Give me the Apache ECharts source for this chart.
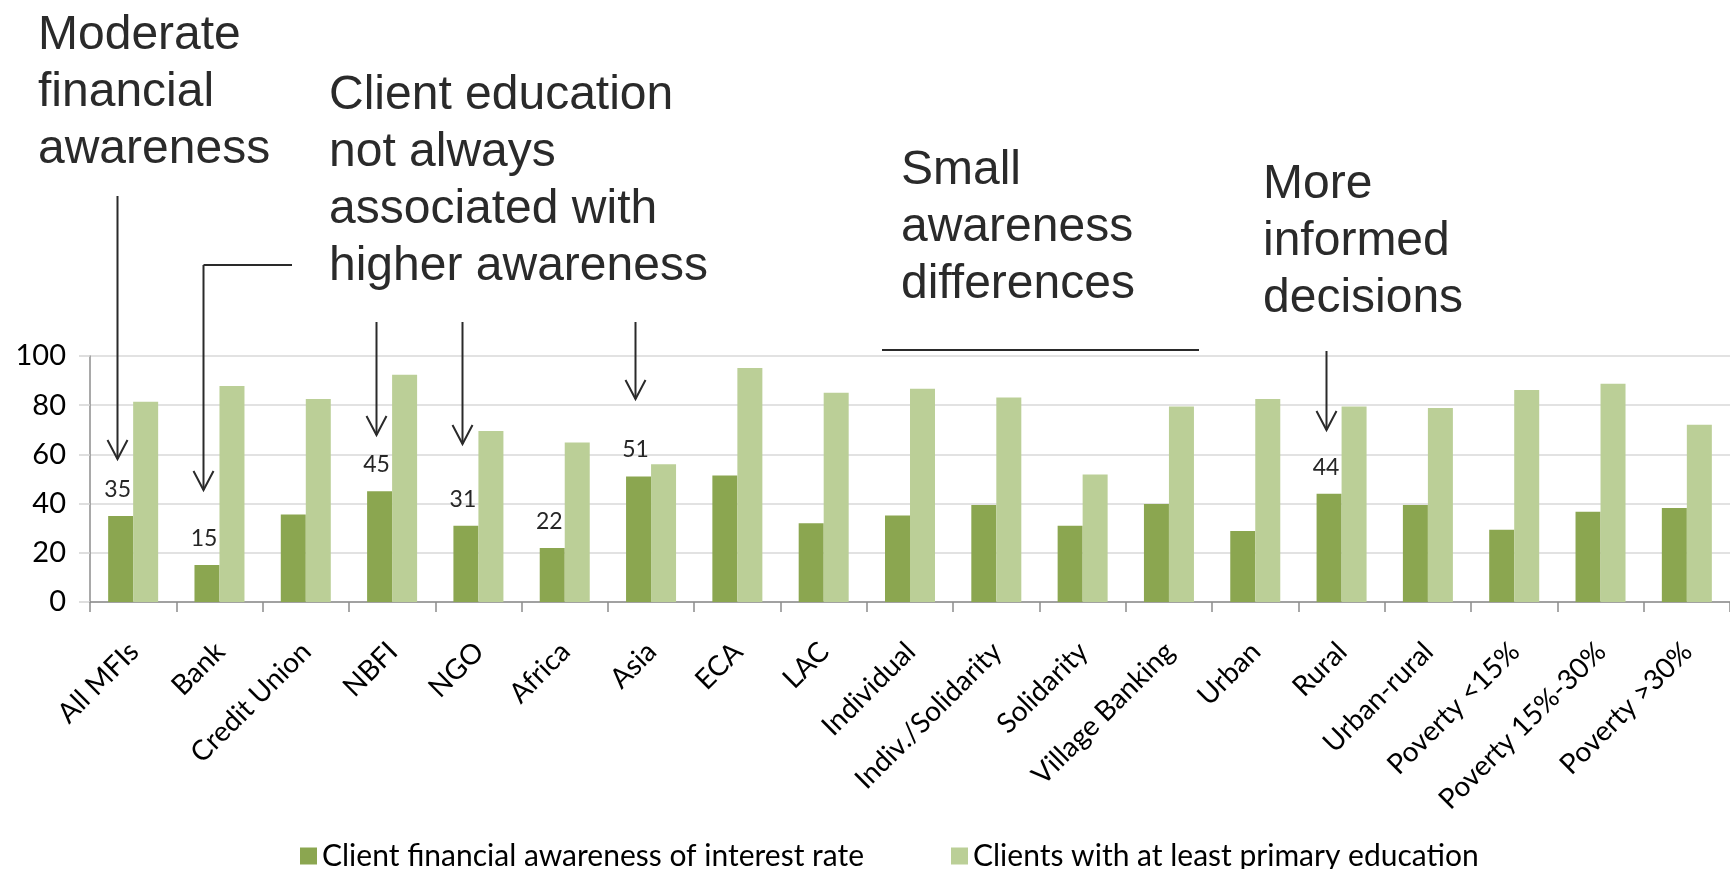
<!DOCTYPE html>
<html><head><meta charset="utf-8">
<script src="https://cdn.jsdelivr.net/npm/echarts@6/dist/echarts.min.js"></script>
<style>html,body{margin:0;padding:0;background:#fff}#c{width:1730px;height:869px}</style>
</head><body><div id="c"></div>
<script>
const categories = ['All MFIs','Bank','Credit Union','NBFI','NGO','Africa','Asia','ECA','LAC','Individual','Indiv./Solidarity','Solidarity','Village Banking','Urban','Rural','Urban-rural','Poverty <15%','Poverty 15%-30%','Poverty >30%'];
const awareness = [35,15,35.6,45,31,22,51,51.4,32,35.2,39.4,31,39.8,28.9,44,39.4,29.4,36.7,38.2];
const education = [81.4,87.8,82.5,92.4,69.5,64.8,56,95.1,85.1,86.7,83.1,51.8,79.5,82.5,79.5,78.9,86.2,88.7,72.1];
const awarenessLabels = ['35','15','','45','31','22','51','','','','','','','','44','','','',''];
const seriesNames = ['Client financial awareness of interest rate','Clients with at least primary education'];
const yMin = 0, yMax = 100, yStep = 20;

const annotationTexts = [
  ['Moderate','financial','awareness'],
  ['Client education','not always','associated with','higher awareness'],
  ['Small','awareness','differences'],
  ['More','informed','decisions']
];
const arrowCategories = ['All MFIs','Bank','NBFI','NGO','Asia','Rural'];

const ink = '#2a2a2a';
const chart = echarts.init(document.getElementById('c'), null, {renderer:'canvas'});
const legendBase = {top:841, padding:0, itemWidth:17, itemHeight:17, icon:'rect',
  textStyle:{fontFamily:'Lato', fontSize:30, color:'#000'}};
chart.setOption({
  animation:false,
  backgroundColor:'#fff',
  grid:{left:90, top:356, width:1651, height:246, containLabel:false},
  xAxis:{type:'category', data:categories, boundaryGap:true,
    axisLine:{lineStyle:{color:'#8c8c8c', width:1.5}},
    axisTick:{show:true, length:10, lineStyle:{color:'#8c8c8c', width:1.5}},
    axisLabel:{rotate:45, interval:0, margin:26, fontFamily:'Lato', fontSize:28, color:'#000',
      verticalAlign:'top', padding:[0,13,0,0]}},
  yAxis:{type:'value', min:yMin, max:yMax, interval:yStep,
    axisLine:{show:true, lineStyle:{color:'#8c8c8c', width:1.5}},
    axisTick:{show:true, length:11, lineStyle:{color:'#d4d4d4', width:1.5}},
    splitLine:{lineStyle:{color:'#d9d9d9', width:1.5}},
    axisLabel:{margin:24, fontFamily:'Lato', fontSize:29, color:'#000'}},
  legend:[
    Object.assign({data:[seriesNames[0]], left:300}, legendBase),
    Object.assign({data:[seriesNames[1]], left:951}, legendBase)
  ],
  series:[
    {name:seriesNames[0], type:'bar', data:awareness, barWidth:25, barGap:'0%',
     itemStyle:{color:'#8ba650'},
     label:{show:true, position:'top', distance:15, offset:[-3,0], fontFamily:'Lato', fontSize:23, color:'#262626',
       formatter:p=>awarenessLabels[p.dataIndex]}},
    {name:seriesNames[1], type:'bar', data:education, barWidth:25, barGap:'0%',
     itemStyle:{color:'#bbcf97'}}
  ]
});

// annotation layout (pixels)
const textPos = [[38,7],[329,67],[901,142],[1263,156]];
const arrowSpans = [[196,459],[265,490],[322,435],[322,444],[322,399],[351,430]];
const graphics = [];
annotationTexts.forEach((lines,i)=>{
  graphics.push({type:'text', x:textPos[i][0], y:textPos[i][1],
    style:{text:lines.join('\n'), fontFamily:'"Liberation Sans", Arial', fontSize:48, lineHeight:57,
      fill:ink, align:'left', verticalAlign:'top'}});
});
arrowCategories.forEach((cat,i)=>{
  const x = Math.round(chart.convertToPixel({xAxisIndex:0}, cat)) - 15.5;
  const [y1,y2] = arrowSpans[i];
  graphics.push({type:'line', shape:{x1:x,y1:y1,x2:x,y2:y2}, style:{stroke:ink, lineWidth:2}});
  graphics.push({type:'polyline', shape:{points:[[x-10,y2-19],[x,y2],[x+10,y2-19]]}, style:{stroke:ink, lineWidth:2, fill:null}});
  if (cat === 'Bank') {
    graphics.push({type:'line', shape:{x1:x,y1:y1,x2:292,y2:y1}, style:{stroke:ink, lineWidth:2}});
  }
});
graphics.push({type:'line', shape:{x1:882,y1:350,x2:1199,y2:350}, style:{stroke:ink, lineWidth:2}});
chart.setOption({graphic:graphics});
</script>
</body></html>
